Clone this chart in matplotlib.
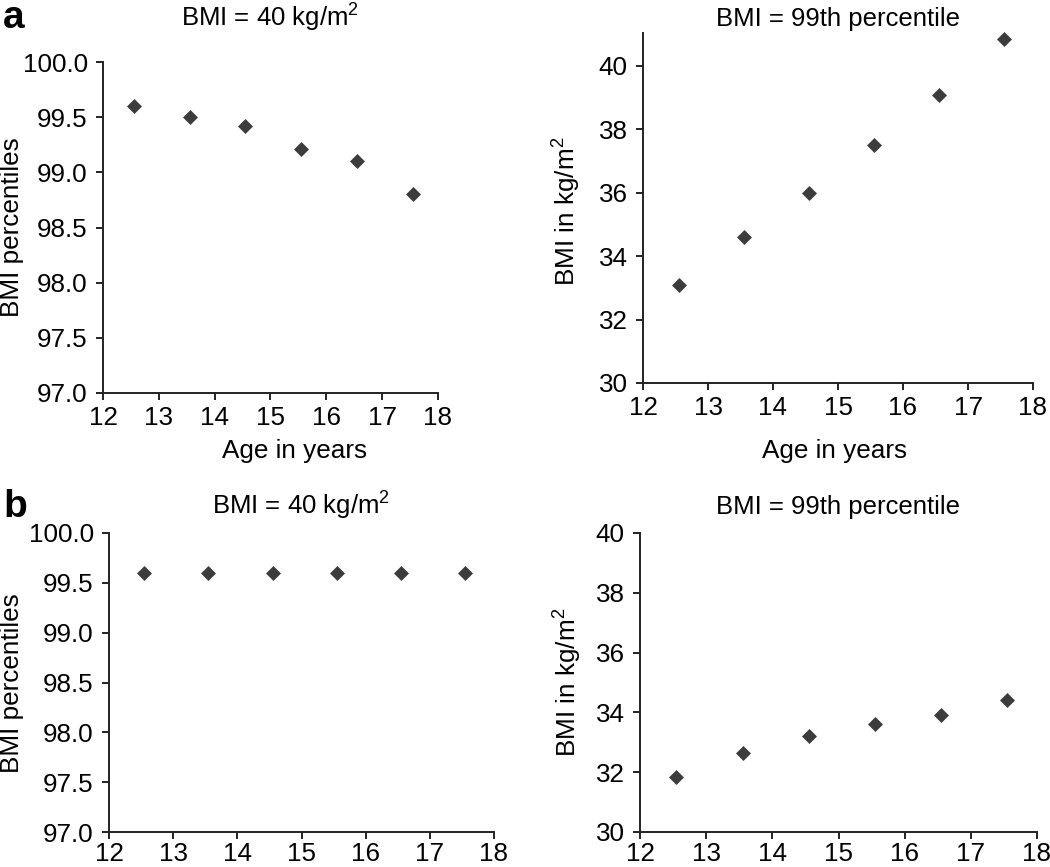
import matplotlib
matplotlib.use("Agg")
import matplotlib.pyplot as plt

plt.rcParams['font.family'] = ['Liberation Sans', 'DejaVu Sans']
plt.rcParams['mathtext.fontset'] = 'custom'
plt.rcParams['mathtext.rm'] = 'Liberation Sans'

ages = [12.55, 13.55, 14.55, 15.55, 16.55, 17.55]
a_percentiles = [99.6, 99.5, 99.42, 99.21, 99.1, 98.8]
a_bmi = [33.1, 34.6, 36.0, 37.5, 39.1, 40.85]
b_percentiles = [99.6, 99.6, 99.6, 99.6, 99.6, 99.6]
b_bmi = [31.85, 32.65, 33.22, 33.6, 33.92, 34.4]

x_ticks = [12, 13, 14, 15, 16, 17, 18]
pct_ticks = [97.0, 97.5, 98.0, 98.5, 99.0, 99.5, 100.0]
bmi_ticks = [30, 32, 34, 36, 38, 40]

W, H = 1050, 867
fig = plt.figure(figsize=(W / 100, H / 100), dpi=100)

def box(x0, y0, x1, y1):
    return [x0 / W, 1 - y1 / H, (x1 - x0) / W, (y1 - y0) / H]

mcol = '#3c3c3c'
tick_fs = 18.7
title_fs = 18.5
label_fs = 18.8

def style(ax, xlim, ylim, yticks, yfmt, xpad):
    ax.set_xlim(*xlim)
    ax.set_ylim(*ylim)
    ax.set_xticks(x_ticks)
    ax.set_yticks(yticks)
    ax.set_yticklabels([yfmt.format(v) for v in yticks])
    for s in ['top', 'right']:
        ax.spines[s].set_visible(False)
    for s in ['left', 'bottom']:
        ax.spines[s].set_linewidth(1.4)
        ax.spines[s].set_color('#222222')
    ax.tick_params(axis='both', direction='out', length=5, width=1.4,
                   color='#222222', labelsize=tick_fs)
    ax.tick_params(axis='y', pad=6)
    ax.tick_params(axis='x', pad=xpad)
    ax.patch.set_alpha(0)

def draw(ax, x, y):
    ax.plot(x, y, linestyle='none', marker='D', markersize=7,
            color=mcol, markeredgewidth=0.5, clip_on=False)

# a-left
ax1 = fig.add_axes(box(103, 62, 438, 393))
draw(ax1, ages, a_percentiles)
style(ax1, (12, 18), (97, 100), pct_ticks, '{:.1f}', 4.5)
ax1.set_title('BMI = 40 kg/m$^2$', fontsize=title_fs, pad=26)

# a-right
ax2 = fig.add_axes(box(643, 33, 1033, 383))
draw(ax2, ages, a_bmi)
style(ax2, (12, 18), (30, 41.04), bmi_ticks, '{:.0f}', 4.5)
ax2.set_title('BMI = 99th percentile', fontsize=title_fs, pad=5)

# b-left
ax3 = fig.add_axes(box(109, 533, 494, 832))
draw(ax3, ages, b_percentiles)
style(ax3, (12, 18), (97, 100), pct_ticks, '{:.1f}', 2.5)
ax3.set_title('BMI = 40 kg/m$^2$', fontsize=title_fs, pad=14)

# b-right
ax4 = fig.add_axes(box(640, 533, 1037, 832))
draw(ax4, ages, b_bmi)
style(ax4, (12, 18), (30, 40), bmi_ticks, '{:.0f}', 2.5)
ax4.set_title('BMI = 99th percentile', fontsize=title_fs, pad=14)

def ftext(x, y, s, **kw):
    fig.text(x / W, 1 - y / H, s, **kw)

# y labels
ftext(12, 227, 'BMI percentiles', rotation=90, ha='center', va='center', fontsize=label_fs)
ftext(566, 211, 'BMI in kg/m$^2$', rotation=90, ha='center', va='center', fontsize=label_fs)
ftext(12, 683, 'BMI percentiles', rotation=90, ha='center', va='center', fontsize=label_fs)
ftext(567, 682, 'BMI in kg/m$^2$', rotation=90, ha='center', va='center', fontsize=label_fs)

# x labels
ftext(295, 451, 'Age in years', ha='center', va='center', fontsize=label_fs)
ftext(835, 451, 'Age in years', ha='center', va='center', fontsize=label_fs)

# panel letters
ftext(3, 28, 'a', ha='left', va='baseline', fontsize=28, fontweight='bold')
ftext(3, 517, 'b', ha='left', va='baseline', fontsize=28, fontweight='bold')

fig.savefig('out.png', dpi=100)
